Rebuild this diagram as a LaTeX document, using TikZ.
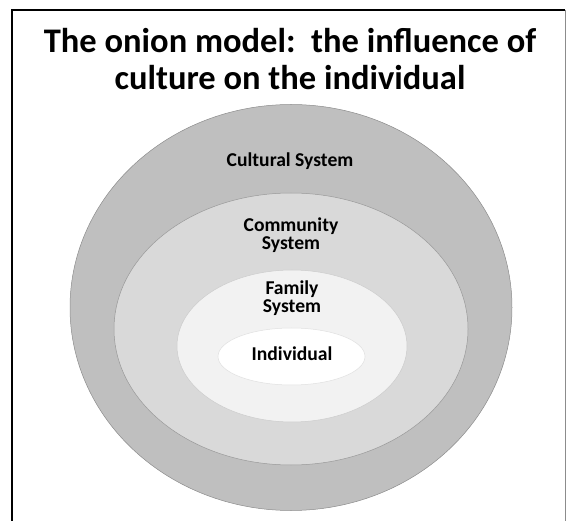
\documentclass[tikz,border=0pt]{standalone}
\usepackage{fontspec}
\setmainfont{Carlito}
\usetikzlibrary{shapes.geometric}

\begin{document}
\begin{tikzpicture}[x=1pt, y=-1pt,
    layer/.style={ellipse, draw=black!40, line width=0.5pt, inner sep=0pt},
    lbl/.style={font=\fontsize{19.6}{18.5}\selectfont\bfseries, text=black, align=center, anchor=base, inner sep=0pt},
]
\useasboundingbox (0,0) rectangle (568,521);
% frame
\draw[black, line width=1.3pt] (12,521) -- (12,10) -- (565,10);
\draw[black!45, line width=0.6pt] (565,10) -- (565,521);
% title
\node[font=\fontsize{34.5}{37}\selectfont\bfseries, align=center, anchor=base, inner sep=0pt] (title) at (290,90) {The onion model:\ \ the influence of\\culture on the individual};
% layers
\node[layer, fill=black!25, draw=black!45, minimum width=442pt, minimum height=406pt] (cultural) at (291,307.5) {};
\node[layer, fill=black!15, minimum width=354pt, minimum height=272pt] (community) at (291,329) {};
\node[layer, fill=black!5, draw=black!20, minimum width=230pt, minimum height=152pt] (family) at (292,346) {};
\node[layer, fill=white, draw=black!12, minimum width=147pt, minimum height=57pt] (individual) at (291.5,356.5) {};
% labels
\node[lbl] (culturaltxt) at (290,167) {Cultural System};
\node[lbl] (communitytxt) at (291,250) {Community\\System};
\node[lbl] (familytxt) at (292,313) {Family\\System};
\node[lbl] (individualtxt) at (292,361) {Individual};
\end{tikzpicture}
\end{document}
